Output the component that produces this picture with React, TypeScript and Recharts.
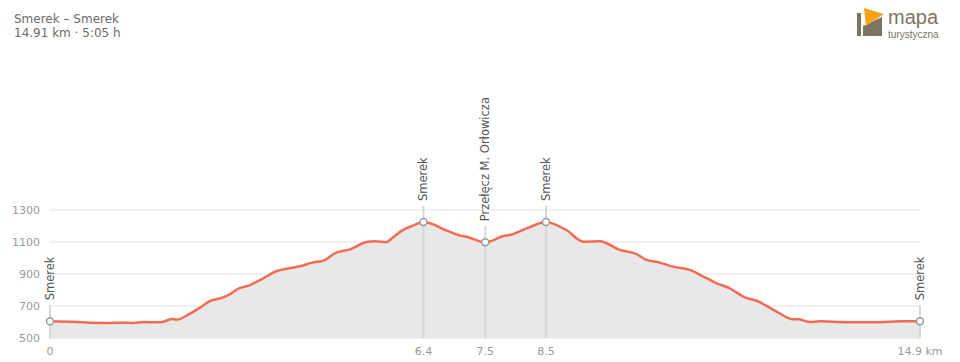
import { Area, CartesianGrid, ComposedChart, ReferenceDot, XAxis, YAxis } from "recharts";

// profile (km, m a.s.l.)
const distanceKm = [
  0, 0.46, 0.69, 1.03, 1.2, 1.43, 1.6, 1.89, 2.09, 2.17, 2.4, 2.57, 2.74, 2.97, 3.06, 3.23, 3.43, 3.6,
  3.89, 4.06, 4.28, 4.49, 4.71, 4.88, 5.14, 5.43, 5.57, 5.77, 5.86, 6.03, 6.23, 6.4, 6.51, 6.8, 7.03,
  7.14, 7.46, 7.77, 7.88, 8.17, 8.5, 8.68, 8.85, 9.14, 9.43, 9.54, 9.74, 10.05, 10.2, 10.45, 10.68, 11.0,
  11.2, 11.43, 11.65, 11.91, 12.11, 12.45, 12.74, 12.82, 13.02, 13.2, 13.54, 13.88, 14.22, 14.57, 14.91,
];
const elevationM = [
  604, 600, 596, 594, 596, 594, 600, 598, 618, 615, 652, 690, 730, 754, 769, 808, 831, 862,
  919, 933, 948, 971, 987, 1029, 1054, 1100, 1104, 1100, 1123, 1171, 1204, 1225, 1217, 1171, 1140,
  1133, 1098, 1137, 1144, 1185, 1225, 1206, 1175, 1102, 1104, 1092, 1054, 1025, 992, 971, 946, 921,
  883, 842, 810, 754, 733, 665, 617, 617, 600, 604, 600, 598, 598, 604, 604,
];

const markerKm = [0, 6.4, 7.46, 8.5, 14.91];
const markerNames = ["Smerek", "Smerek", "Przełęcz M. Orłowicza", "Smerek", "Smerek"];

const xTicks = [0, 6.4, 7.46, 8.5, 14.91];
const xTickLabels = ["0", "6.4", "7.5", "8.5", "14.9 km"];
const yTicks = [500, 700, 900, 1100, 1300];

const PLOT_BOTTOM = 338;

const rows = distanceKm.map((km, i) => ({ km, ele: elevationM[i] }));

function markerShape(name: string) {
  return (props: any) => {
    const { cx, cy } = props;
    return (
      <g>
        <line x1={cx} x2={cx} y1={cy - 16} y2={PLOT_BOTTOM} stroke="#d6d6d6" strokeWidth={2} />
        <circle cx={cx} cy={cy} r={3.5} fill="#fff" stroke="#9a9a9a" strokeWidth={1.5} />
        <text
          x={cx + 4}
          y={cy - 21}
          transform={`rotate(-90 ${cx + 4} ${cy - 21})`}
          fontSize={11.5}
          fill="#555"
          fontFamily="DejaVu Sans"
        >
          {name}
        </text>
      </g>
    );
  };
}

function Logo() {
  return (
    <svg width={100} height={40} style={{ position: "absolute", left: 850, top: 2 }}>
      <rect x={7} y={11} width={4} height={23} fill="#7a755f" />
      <polygon points="13,24 32,15 32,34 13,34" fill="#7a755f" />
      <polygon points="14,6 34,12 16,24" fill="#f7a21b" />
      <text x={38} y={22} fontFamily="Liberation Sans" fontSize={20} fill="#7a755f">
        mapa
      </text>
      <text x={38} y={35.5} fontFamily="Liberation Sans" fontSize={10} fill="#7a755f">
        turystyczna
      </text>
    </svg>
  );
}

export default function App() {
  return (
    <div
      style={{
        position: "absolute",
        left: 0,
        top: 0,
        width: 960,
        height: 362,
        background: "#fff",
        fontFamily: "DejaVu Sans",
      }}
    >
      <div style={{ position: "absolute", left: 14, top: 12, fontSize: 12, lineHeight: "14px", color: "#6b6b6b" }}>
        <div>Smerek – Smerek</div>
        <div>14.91 km · 5:05 h</div>
      </div>
      <Logo />
      <ComposedChart
        width={960}
        height={362}
        data={rows}
        margin={{ top: 210, right: 40, bottom: 0, left: 0 }}
      >
        <CartesianGrid vertical={false} stroke="#f0f0f0" strokeWidth={2} />
        <XAxis
          dataKey="km"
          type="number"
          domain={[0, 14.91]}
          ticks={xTicks}
          tickFormatter={(v: number) => xTickLabels[xTicks.indexOf(v)] ?? String(v)}
          axisLine={false}
          tickLine={false}
          tickSize={0}
          tickMargin={9}
          height={24}
          interval={0}
          tick={{ fontSize: 11, fill: "#999" }}
        />
        <YAxis
          type="number"
          domain={[500, 1300]}
          ticks={yTicks}
          axisLine={false}
          tickLine={false}
          tickSize={0}
          tickMargin={10}
          width={50}
          tick={{ fontSize: 11, fill: "#999" }}
        />
        <Area
          type="monotone"
          dataKey="ele"
          stroke="#f26c53"
          strokeWidth={2.5}
          fill="#e8e8e8"
          fillOpacity={1}
          dot={false}
          activeDot={false}
          isAnimationActive={false}
        />
        {markerKm.map((km, i) => (
          <ReferenceDot
            key={i}
            x={km}
            y={elevationM[distanceKm.indexOf(km)]}
            ifOverflow="visible"
            shape={markerShape(markerNames[i])}
          />
        ))}
      </ComposedChart>
    </div>
  );
}
